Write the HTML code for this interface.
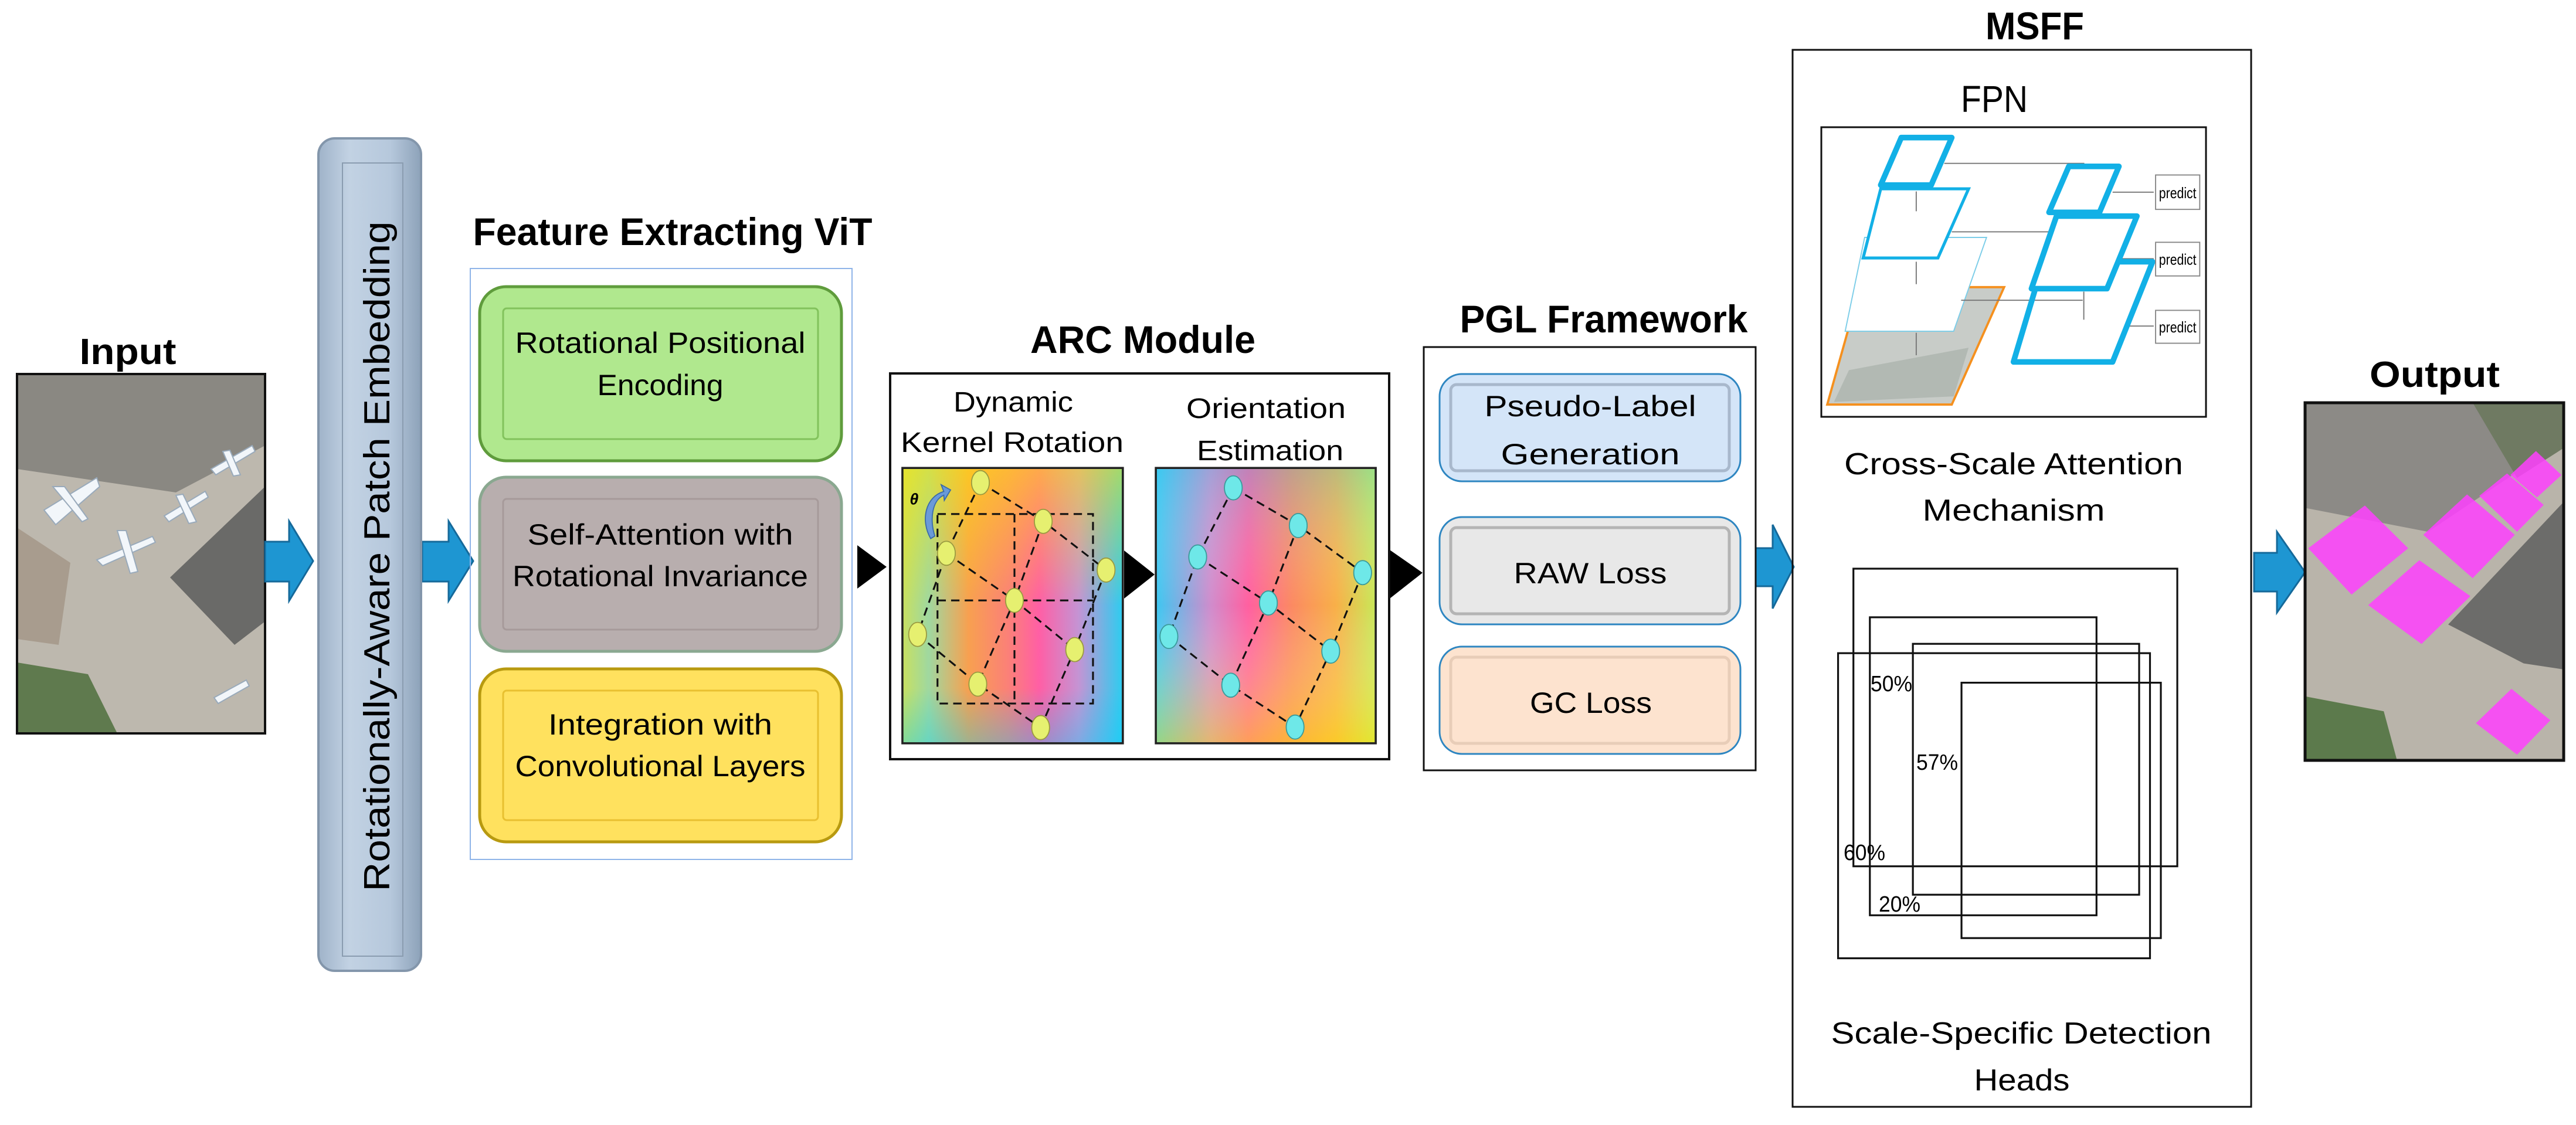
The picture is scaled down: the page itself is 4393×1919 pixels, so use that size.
<!DOCTYPE html>
<html><head><meta charset="utf-8"><style>
html,body{margin:0;padding:0;background:#fff;}
svg{display:block;}
text{font-family:"Liberation Sans",sans-serif;fill:#000;}
</style></head><body>
<svg width="4393" height="1919" viewBox="0 0 4393 1919" xmlns="http://www.w3.org/2000/svg">
<defs>
<linearGradient id="bar" x1="0" x2="1" y1="0" y2="0"><stop offset="0" stop-color="#9fb3c9"/><stop offset="0.3" stop-color="#c2d2e3"/><stop offset="0.7" stop-color="#b6c8dc"/><stop offset="1" stop-color="#8da2b9"/></linearGradient>
<linearGradient id="gL" x1="0" x2="1" y1="0" y2="0"><stop offset="0" stop-color="#c8e060"/><stop offset="0.12" stop-color="#9fd8a0"/><stop offset="0.3" stop-color="#f8a050"/><stop offset="0.48" stop-color="#fb8078"/><stop offset="0.62" stop-color="#ff5fa5"/><stop offset="0.8" stop-color="#c494d4"/><stop offset="1" stop-color="#2ccdf0"/></linearGradient>
<linearGradient id="gLv" x1="0" x2="0" y1="0" y2="1"><stop offset="0" stop-color="#ffe600" stop-opacity="0.55"/><stop offset="0.5" stop-color="#ffe600" stop-opacity="0"/><stop offset="0.8" stop-color="#00d0ff" stop-opacity="0"/><stop offset="1" stop-color="#00d0ff" stop-opacity="0.35"/></linearGradient>
<linearGradient id="gR" x1="0" x2="1" y1="0" y2="0"><stop offset="0" stop-color="#3cc8f2"/><stop offset="0.25" stop-color="#d08ccc"/><stop offset="0.42" stop-color="#ff60a0"/><stop offset="0.62" stop-color="#fb8a62"/><stop offset="0.82" stop-color="#f8b048"/><stop offset="1" stop-color="#c8e858"/></linearGradient>
<linearGradient id="gRv" x1="0" x2="0" y1="0" y2="1"><stop offset="0" stop-color="#30d0f0" stop-opacity="0.3"/><stop offset="0.5" stop-color="#fff" stop-opacity="0"/><stop offset="1" stop-color="#ffe800" stop-opacity="0.45"/></linearGradient>
<linearGradient id="sat" x1="0" x2="1" y1="0" y2="1"><stop offset="0" stop-color="#7c7c78"/><stop offset="0.5" stop-color="#b8b4ac"/><stop offset="1" stop-color="#a8a49c"/></linearGradient>
</defs>

<!-- INPUT -->
<text x="218" y="621" font-size="62" font-weight="bold" text-anchor="middle" textLength="165" lengthAdjust="spacingAndGlyphs">Input</text>
<g>
<rect x="29" y="638" width="423" height="613" fill="#bdb8ae"/>
<polygon points="29,638 452,638 452,760 300,840 29,800" fill="#8a8882"/>
<polygon points="290,985 452,830 452,1060 400,1100" fill="#6a6a68"/>
<polygon points="29,1130 150,1150 200,1251 29,1251" fill="#5f7a4e"/>
<polygon points="29,900 120,960 100,1100 29,1090" fill="#a89c8e"/>
<g fill="#f2f6fa" stroke="#9ab" stroke-width="2">
<polygon points="75,870 165,815 170,830 95,895"/><polygon points="90,830 110,830 150,885 140,890"/>
<polygon points="165,955 260,915 265,925 175,965"/><polygon points="200,905 215,905 235,975 222,978"/>
<polygon points="280,880 350,838 355,848 288,890"/><polygon points="300,845 312,843 335,890 322,893"/>
<polygon points="360,800 430,760 435,770 368,810"/><polygon points="380,770 392,768 410,810 398,812"/>
<polygon points="365,1190 420,1160 425,1170 372,1200"/>
</g>
<rect x="29" y="638" width="423" height="613" fill="none" stroke="#111" stroke-width="4"/>
</g>

<!-- arrows blue -->
<g fill="#1e96d2" stroke="#15699a" stroke-width="3">
<polygon points="452,924 493,924 493,889 534,957 493,1025 493,992 452,992"/>
<polygon points="720,924 765,924 765,889 807,957 765,1025 765,992 720,992"/>
<polygon points="2994,935 3023,935 3023,895 3059,967 3023,1038 3023,1000 2994,1000"/>
<polygon points="3844,943 3883,943 3883,907 3931,976 3883,1045 3883,1009 3844,1009"/>
</g>

<!-- bar -->
<rect x="543" y="236" width="175" height="1420" rx="28" fill="url(#bar)" stroke="#8396ab" stroke-width="4"/>
<rect x="584" y="278" width="103" height="1353" fill="none" stroke="#8a9cb0" stroke-width="2"/>
<text transform="translate(664,949) rotate(-90)" x="0" y="0" font-size="62" text-anchor="middle" textLength="1143" lengthAdjust="spacingAndGlyphs">Rotationally-Aware Patch Embedding</text>

<!-- ViT -->
<text x="1147" y="418" font-size="66" font-weight="bold" text-anchor="middle" textLength="681" lengthAdjust="spacingAndGlyphs">Feature Extracting ViT</text>
<rect x="802" y="458" width="651" height="1008" fill="none" stroke="#8fb4e8" stroke-width="2"/>
<rect x="818" y="489" width="617" height="297" rx="45" fill="#b0e88e" stroke="#5f9c3c" stroke-width="5"/>
<rect x="858" y="526" width="537" height="223" rx="6" fill="none" stroke="#82c25c" stroke-width="3"/>
<rect x="818" y="814" width="617" height="297" rx="45" fill="#b8aeae" stroke="#8aa890" stroke-width="5"/>
<rect x="858" y="851" width="537" height="223" rx="6" fill="none" stroke="#a69a9a" stroke-width="3"/>
<rect x="818" y="1141" width="617" height="295" rx="45" fill="#ffe15e" stroke="#b89a10" stroke-width="5"/>
<rect x="858" y="1178" width="537" height="221" rx="6" fill="none" stroke="#e8c030" stroke-width="3"/>
<g font-size="50" text-anchor="middle">
<text x="1126" y="602" textLength="495" lengthAdjust="spacingAndGlyphs">Rotational Positional</text>
<text x="1126" y="674" textLength="215" lengthAdjust="spacingAndGlyphs">Encoding</text>
<text x="1126" y="929" textLength="453" lengthAdjust="spacingAndGlyphs">Self-Attention with</text>
<text x="1126" y="1000" textLength="504" lengthAdjust="spacingAndGlyphs">Rotational Invariance</text>
<text x="1126" y="1253" textLength="382" lengthAdjust="spacingAndGlyphs">Integration with</text>
<text x="1126" y="1324" textLength="495" lengthAdjust="spacingAndGlyphs">Convolutional Layers</text>
</g>

<!-- black triangles -->
<g fill="#000">
<polygon points="1462,930 1512,967 1462,1004"/>
<polygon points="1917,939 1969,980 1917,1021"/>
<polygon points="2370,938 2426,977 2370,1021"/>
</g>

<!-- ARC -->
<text x="1949" y="602" font-size="66" font-weight="bold" text-anchor="middle" textLength="384" lengthAdjust="spacingAndGlyphs">ARC Module</text>
<rect x="1518" y="637" width="851" height="658" fill="none" stroke="#111" stroke-width="4"/>
<g font-size="48" text-anchor="middle">
<text x="1728" y="702" textLength="204" lengthAdjust="spacingAndGlyphs">Dynamic</text>
<text x="1726" y="771" textLength="380" lengthAdjust="spacingAndGlyphs">Kernel  Rotation</text>
<text x="2159" y="713" textLength="272" lengthAdjust="spacingAndGlyphs">Orientation</text>
<text x="2166" y="785" textLength="250" lengthAdjust="spacingAndGlyphs">Estimation</text>
</g>
<g transform="translate(1480,450) scale(0.8929)">
<rect x="66" y="390" width="421" height="526" fill="url(#gL)"/>
<rect x="66" y="390" width="421" height="526" fill="url(#gLv)"/>
<rect x="66" y="390" width="421" height="526" fill="none" stroke="#222" stroke-width="4"/>
<rect x="550" y="390" width="420" height="526" fill="url(#gR)"/>
<rect x="550" y="390" width="420" height="526" fill="url(#gRv)"/>
<rect x="550" y="390" width="420" height="526" fill="none" stroke="#222" stroke-width="4"/>
<g fill="none" stroke="#111" stroke-width="3.5" stroke-dasharray="16,10">
<rect x="133" y="478" width="297" height="362"/>
<line x1="280" y1="478" x2="280" y2="840"/><line x1="133" y1="643" x2="430" y2="643"/>
<polyline points="215,418 335,492 455,585"/><polyline points="150,553 280,643 395,737"/><polyline points="95,708 210,803 330,886"/>
<polyline points="215,418 150,553 95,708"/><polyline points="335,492 280,643 210,803"/><polyline points="455,585 395,737 330,886"/>
<polyline points="698,428 822,500 945,590"/><polyline points="630,560 765,648 884,740"/><polyline points="575,712 693,805 816,885"/>
<polyline points="698,428 630,560 575,712"/><polyline points="822,500 765,648 693,805"/><polyline points="945,590 884,740 816,885"/>
</g>
<g fill="#e6f070" stroke="#9a9a40" stroke-width="2">
<ellipse cx="215" cy="418" rx="17" ry="23"/><ellipse cx="335" cy="492" rx="17" ry="23"/><ellipse cx="455" cy="585" rx="17" ry="23"/>
<ellipse cx="150" cy="553" rx="17" ry="23"/><ellipse cx="280" cy="643" rx="17" ry="23"/><ellipse cx="395" cy="737" rx="17" ry="23"/>
<ellipse cx="95" cy="708" rx="17" ry="23"/><ellipse cx="210" cy="803" rx="17" ry="23"/><ellipse cx="330" cy="886" rx="17" ry="23"/>
</g>
<g fill="#6ee8e8" stroke="#3a9a9a" stroke-width="2">
<ellipse cx="698" cy="428" rx="17" ry="23"/><ellipse cx="822" cy="500" rx="17" ry="23"/><ellipse cx="945" cy="590" rx="17" ry="23"/>
<ellipse cx="630" cy="560" rx="17" ry="23"/><ellipse cx="765" cy="648" rx="17" ry="23"/><ellipse cx="884" cy="740" rx="17" ry="23"/>
<ellipse cx="575" cy="712" rx="17" ry="23"/><ellipse cx="693" cy="805" rx="17" ry="23"/><ellipse cx="816" cy="885" rx="17" ry="23"/>
</g>
<path d="M120,525 C100,490 110,445 145,435 L140,422 L158,432 L146,452 L145,442 C122,452 118,490 128,520 Z" fill="#6a9ad8" stroke="#3a6aa8" stroke-width="2"/>
<text x="80" y="460" font-size="30" font-weight="bold" font-style="italic">θ</text>
</g>

<!-- PGL -->
<text x="2735" y="567" font-size="66" font-weight="bold" text-anchor="middle" textLength="491" lengthAdjust="spacingAndGlyphs">PGL Framework</text>
<rect x="2428" y="592" width="566" height="722" fill="none" stroke="#111" stroke-width="3"/>
<rect x="2455" y="638" width="513" height="183" rx="38" fill="#d4e5f8" stroke="#2e86c1" stroke-width="3"/>
<rect x="2474" y="656" width="475" height="147" rx="10" fill="none" stroke="#a8b8cc" stroke-width="5"/>
<rect x="2455" y="882" width="513" height="183" rx="38" fill="#e8e8e8" stroke="#2e86c1" stroke-width="3"/>
<rect x="2474" y="900" width="475" height="147" rx="10" fill="none" stroke="#b4b4b4" stroke-width="5"/>
<rect x="2455" y="1103" width="513" height="183" rx="38" fill="#fde3cf" stroke="#2e86c1" stroke-width="3"/>
<rect x="2474" y="1121" width="475" height="147" rx="10" fill="none" stroke="#e8cdb8" stroke-width="5"/>
<g font-size="50" text-anchor="middle">
<text x="2712" y="710" textLength="361" lengthAdjust="spacingAndGlyphs">Pseudo-Label</text>
<text x="2712" y="792" textLength="305" lengthAdjust="spacingAndGlyphs">Generation</text>
<text x="2712" y="995" textLength="261" lengthAdjust="spacingAndGlyphs">RAW Loss</text>
<text x="2713" y="1216" textLength="208" lengthAdjust="spacingAndGlyphs">GC Loss</text>
</g>

<!-- MSFF -->
<text x="3470" y="67" font-size="66" font-weight="bold" text-anchor="middle" textLength="168" lengthAdjust="spacingAndGlyphs">MSFF</text>
<rect x="3057" y="85" width="782" height="1803" fill="none" stroke="#111" stroke-width="3"/>
<text x="3401" y="191" font-size="64" text-anchor="middle" textLength="114" lengthAdjust="spacingAndGlyphs">FPN</text>
<rect x="3106" y="217" width="656" height="494" fill="#fff" stroke="#111" stroke-width="3"/>
<g transform="translate(3000,0) scale(0.6378)">
<polygon points="270,768 655,768 515,1082 182,1082" fill="#c8ccc8" stroke="#f5901e" stroke-width="6"/>
<polygon points="240,990 560,930 520,1060 200,1075" fill="#a8b0aa" opacity="0.7"/>
<polygon points="282,635 608,635 520,886 230,886" fill="#fff" stroke="#7ccde8" stroke-width="3"/>
<polygon points="325,505 560,505 478,690 278,690" fill="#fff" stroke="#12b0e6" stroke-width="8"/>
<polygon points="380,368 515,368 460,495 325,495" fill="#fff" stroke="#12b0e6" stroke-width="15" stroke-linejoin="round"/>
<g stroke="#777" stroke-width="3" fill="none">
<polyline points="495,437 868,437 868,515"/><line x1="515" y1="620" x2="865" y2="620"/><line x1="540" y1="803" x2="865" y2="803"/>
<line x1="420" y1="565" x2="420" y2="512"/><line x1="420" y1="760" x2="420" y2="700"/><line x1="420" y1="950" x2="420" y2="890"/>
<line x1="868" y1="580" x2="868" y2="675"/><line x1="868" y1="780" x2="868" y2="855"/>
<line x1="945" y1="514" x2="1055" y2="514"/><line x1="970" y1="692" x2="1055" y2="692"/><line x1="985" y1="872" x2="1055" y2="872"/>
</g>
<polygon points="760,700 1052,700 945,968 680,968" fill="none" stroke="#12b0e6" stroke-width="15" stroke-linejoin="round"/>
<polygon points="795,578 1010,578 930,772 728,772" fill="#fff" stroke="#12b0e6" stroke-width="15" stroke-linejoin="round"/>
<polygon points="828,445 962,445 910,568 775,568" fill="#fff" stroke="#12b0e6" stroke-width="15" stroke-linejoin="round"/>
<g fill="#fff" stroke="#888" stroke-width="3">
<rect x="1060" y="468" width="118" height="92"/><rect x="1060" y="648" width="118" height="90"/><rect x="1060" y="830" width="118" height="88"/>
</g>
<g font-size="40" text-anchor="middle" fill="#333">
<text x="1119" y="530" textLength="100" lengthAdjust="spacingAndGlyphs" fill="#333">predict</text>
<text x="1119" y="708" textLength="100" lengthAdjust="spacingAndGlyphs" fill="#333">predict</text>
<text x="1119" y="889" textLength="100" lengthAdjust="spacingAndGlyphs" fill="#333">predict</text>
</g>
</g>
<g font-size="52" text-anchor="middle">
<text x="3434" y="809" textLength="578" lengthAdjust="spacingAndGlyphs">Cross-Scale Attention</text>
<text x="3434" y="888" textLength="311" lengthAdjust="spacingAndGlyphs">Mechanism</text>
<text x="3447" y="1780" textLength="649" lengthAdjust="spacingAndGlyphs">Scale-Specific Detection</text>
<text x="3448" y="1860" textLength="163" lengthAdjust="spacingAndGlyphs">Heads</text>
</g>
<g transform="translate(3000,919) scale(0.6378)" fill="none" stroke="#111" stroke-width="5">
<rect x="252" y="80" width="866" height="796"/>
<rect x="296" y="210" width="606" height="797"/>
<rect x="411" y="281" width="605" height="671"/>
<rect x="211" y="306" width="834" height="816"/>
<rect x="541" y="385" width="533" height="683"/>
</g>
<g font-size="38" fill="#222">
<text x="3190" y="1179" textLength="71" lengthAdjust="spacingAndGlyphs">50%</text>
<text x="3268" y="1313" textLength="71" lengthAdjust="spacingAndGlyphs">57%</text>
<text x="3144" y="1467" textLength="71" lengthAdjust="spacingAndGlyphs">60%</text>
<text x="3204" y="1555" textLength="71" lengthAdjust="spacingAndGlyphs">20%</text>
</g>

<!-- OUTPUT -->
<text x="4152" y="660" font-size="62" font-weight="bold" text-anchor="middle" textLength="222" lengthAdjust="spacingAndGlyphs">Output</text>
<rect x="3931" y="687" width="441" height="610" fill="#b9b4aa"/>
<g transform="translate(3800,550) scale(0.3788,0.5102)">
<polygon points="345,268 1100,268 1300,500 900,700 345,620" fill="#8c8a86"/>
<polygon points="1100,268 1510,268 1510,420 1300,520" fill="#6f7a62"/>
<polygon points="990,1010 1510,600 1510,1160 1330,1140" fill="#6c6c6a"/>
<polygon points="345,1250 700,1300 760,1465 345,1465" fill="#5c7a4c"/>
<g fill="#ff40ff" opacity="0.85">
<polygon points="360,755 615,612 810,755 555,910"/>
<polygon points="630,945 860,795 1090,915 870,1075"/>
<polygon points="878,710 1075,575 1290,710 1100,855"/>
<polygon points="1130,580 1255,505 1420,610 1300,700"/>
<polygon points="1270,510 1385,430 1500,510 1390,585"/>
<polygon points="1115,1340 1275,1225 1450,1330 1300,1445"/>
</g>
</g>
<rect x="3931" y="687" width="441" height="610" fill="none" stroke="#111" stroke-width="5"/>
</svg>
</body></html>
